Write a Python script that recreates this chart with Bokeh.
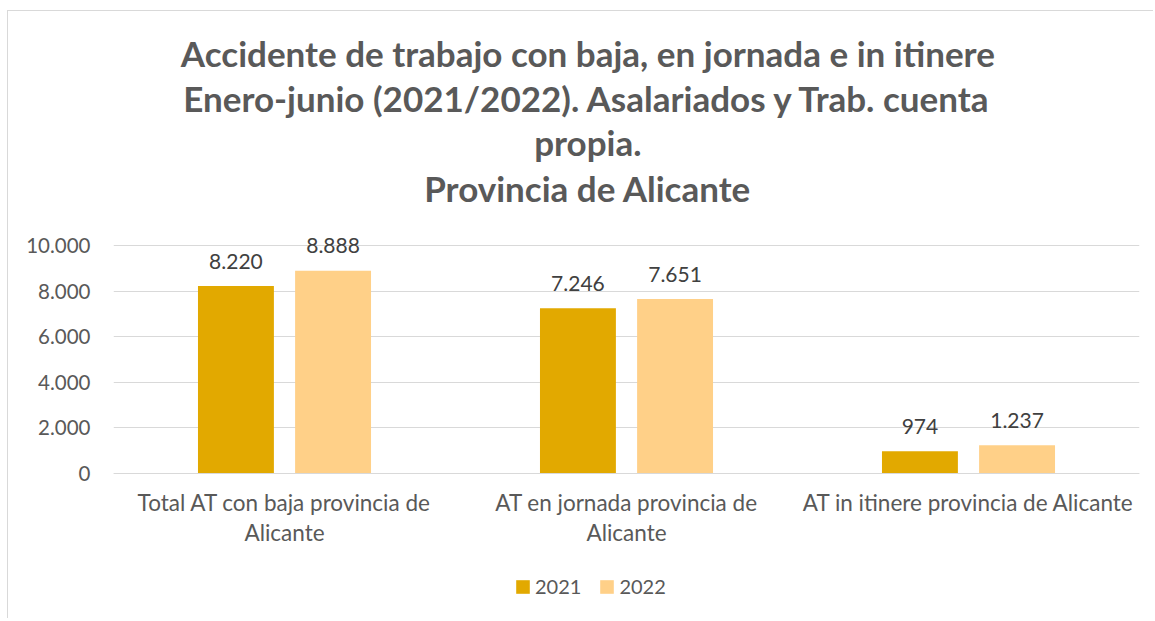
from bokeh.plotting import figure
from bokeh.models import (ColumnDataSource, FactorRange, Range1d, FixedTicker, Label,
                          Legend, LegendItem)
from bokeh.transform import dodge
from bokeh.core.properties import value
from bokeh.embed import file_html
from bokeh.resources import INLINE

categories = ["Total AT con baja provincia de\nAlicante",
              "AT en jornada provincia de\nAlicante",
              "AT in itinere provincia de Alicante"]
years = ["2021", "2022"]
values_2021 = [8220, 7246, 974]
values_2022 = [8888, 7651, 1237]
labels_2021 = ["8.220", "7.246", "974"]
labels_2022 = ["8.888", "7.651", "1.237"]
y_ticks = [0, 2000, 4000, 6000, 8000, 10000]
y_tick_labels = ["0", "2.000", "4.000", "6.000", "8.000", "10.000"]
title_lines = ["Accidente de trabajo con baja, en jornada e in itinere",
               "Enero-junio (2021/2022). Asalariados y Trab. cuenta",
               "propia.",
               "Provincia de Alicante"]

C2021 = "#E2A900"
C2022 = "#FFD088"
TXT = "#595959"
FONT = "Lato"

# pixel geometry of the frame (page coords): 0 at y=474, 22.8 px per 1000
Y0_PX, PX_PER_UNIT = 474.0, 0.0228
FRAME_TOP, FRAME_BOTTOM = 14.0, 617.0

def y_of(px):
    return (Y0_PX - px) / PX_PER_UNIT

source = ColumnDataSource(data=dict(cat=categories, v2021=values_2021, v2022=values_2022,
                                    l2021=labels_2021, l2022=labels_2022))

p = figure(width=1146, height=608, output_backend="svg", toolbar_location=None,
           x_range=FactorRange(*categories, range_padding=0),
           y_range=Range1d(y_of(FRAME_BOTTOM), y_of(FRAME_TOP)),
           min_border_left=105, min_border_right=15, min_border_top=2, min_border_bottom=3)
p.margin = (10, 0, 0, 7)
p.outline_line_color = None
p.background_fill_color = "white"
p.border_fill_color = "white"
p.styles = {"border-top": "1px solid #d9d9d9", "border-left": "1px solid #d9d9d9"}

r1 = p.vbar(x=dodge("cat", -0.142, range=p.x_range), top="v2021", width=0.222,
            source=source, fill_color=C2021, line_color=None)
r2 = p.vbar(x=dodge("cat", 0.142, range=p.x_range), top="v2022", width=0.222,
            source=source, fill_color=C2022, line_color=None)

p.text(x=dodge("cat", -0.142, range=p.x_range), y="v2021", text="l2021", source=source,
       text_align="center", text_baseline="alphabetic", y_offset=-25,
       text_font=value(FONT), text_font_size="21px", text_color="#404040")
p.text(x=dodge("cat", 0.142, range=p.x_range), y="v2022", text="l2022", source=source,
       text_align="center", text_baseline="alphabetic", y_offset=-25,
       text_font=value(FONT), text_font_size="21px", text_color="#404040")

# axes
p.yaxis.ticker = FixedTicker(ticks=y_ticks)
p.yaxis.major_label_overrides = {t: l for t, l in zip(y_ticks, y_tick_labels)}
p.yaxis.axis_line_color = None
p.yaxis.major_tick_line_color = None
p.yaxis.minor_tick_line_color = None
p.yaxis.major_tick_out = 0
p.yaxis.major_label_standoff = 23
p.yaxis.major_label_text_font = FONT
p.yaxis.major_label_text_font_size = "20.5px"
p.yaxis.major_label_text_color = TXT

p.xaxis.fixed_location = 0
p.xaxis.axis_line_color = "#d9d9d9"
p.xaxis.axis_line_width = 1
p.xaxis.major_tick_line_color = None
p.xaxis.major_tick_out = 0
p.xaxis.major_tick_in = 0
p.xaxis.major_label_standoff = 15
p.xaxis.major_label_text_font = FONT
p.xaxis.major_label_text_font_size = "22.5px"
p.xaxis.major_label_text_color = TXT
p.xaxis.major_label_text_line_height = 1.143
p.xaxis.major_label_orientation = "horizontal"

p.xgrid.grid_line_color = None
p.ygrid.grid_line_color = "#d9d9d9"
p.ygrid.grid_line_width = 1

# title lines (anchor positions compensated for the renderer's baseline placement)
anchors_px = [53, 98, 142, 188]
for line, apx in zip(title_lines, anchors_px):
    p.add_layout(Label(x=1.387, y=y_of(apx), text=line,
                       text_align="center", text_baseline="alphabetic",
                       text_font=FONT, text_font_style="bold", text_font_size="35px",
                       text_color=TXT))

legend = Legend(items=[LegendItem(label=years[0], renderers=[r1]),
                       LegendItem(label=years[1], renderers=[r2])],
                location=(401, 18), orientation="horizontal",
                glyph_width=17, glyph_height=17, label_standoff=4, spacing=17,
                padding=0, margin=0, border_line_color=None, background_fill_alpha=0,
                label_text_font=FONT, label_text_font_size="20px", label_text_color=TXT)
p.add_layout(legend, "center")

open("out.html", "w").write(file_html(p, INLINE))
